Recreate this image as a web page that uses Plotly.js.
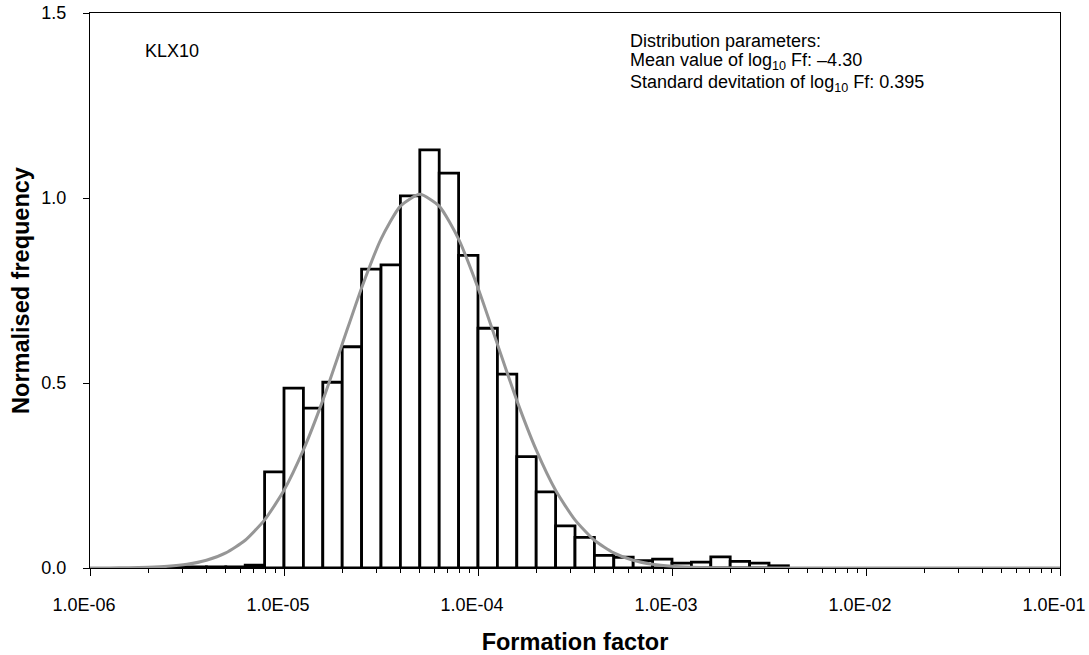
<!DOCTYPE html>
<html>
<head>
<meta charset="utf-8">
<script src="https://cdn.plot.ly/plotly-3.0.1.min.js"></script>
<style>html,body{margin:0;padding:0;background:#fff;}#chart{width:1089px;height:655px;}</style>
</head>
<body>
<div id="chart"></div>
<script>
// Histogram bins: left edge of each bin in log10(Formation factor), bin width 0.1 decade
const binStartLog10 = [-5.6,-5.5,-5.4,-5.3,-5.2,-5.1,-5.0,-4.9,-4.8,-4.7,-4.6,-4.5,-4.4,-4.3,-4.2,-4.1,
                       -4.0,-3.9,-3.8,-3.7,-3.6,-3.5,-3.4,-3.3,-3.2,-3.1,-3.0,-2.9,-2.8,-2.7,-2.6,-2.5];
const normFrequency = [0.002,0.003,0.003,0.003,0.008,0.260,0.486,0.432,0.502,0.598,0.808,0.819,1.006,1.130,1.067,0.845,
                       0.648,0.524,0.301,0.206,0.114,0.083,0.034,0.029,0.020,0.024,0.013,0.016,0.030,0.018,0.013,0.006];
const binWidthLog10 = 0.1;

// Fitted log-normal curve (log10 Ff, normalised frequency)
const curveLog10 = [-6.0,-5.9,-5.8,-5.7,-5.6,-5.5,-5.4,-5.3,-5.2,-5.1,-5.0,-4.9,-4.8,-4.7,-4.6,-4.5,-4.4,-4.3,
                    -4.2,-4.1,-4.0,-3.9,-3.8,-3.7,-3.6,-3.5,-3.4,-3.3,-3.2,-3.1,-3.0,-2.9,-2.8,-2.7,-2.6,
                    -2.4,-2.0,-1.5,-1.0];
const curveFreq  = [0.0001,0.0003,0.0007,0.0019,0.0045,0.010,0.021,0.041,0.075,0.130,0.210,0.319,0.453,0.605,0.757,0.889,0.978,1.010,
                    0.978,0.889,0.757,0.605,0.453,0.319,0.210,0.130,0.075,0.041,0.021,0.010,0.0045,0.0019,0.0007,0.0003,0.0001,
                    0,0,0,0];

// Axis tick labels
const majorTickLog10 = [-6,-5,-4,-3,-2,-1];
const majorTickText = ["1.0E-06","1.0E-05","1.0E-04","1.0E-03","1.0E-02","1.0E-01"];
const minorMultipliers = [2,3,4,5,6,7,8,9];
const yTickVals = [0,0.5,1.0,1.5];
const yTickText = ["0.0","0.5","1.0","1.5"];

const wellName = "KLX10";
const paramHeader = "Distribution parameters:";
const meanLog10 = "–4.30";
const sdLog10 = "0.395";

const minorTicks = [];
majorTickLog10.slice(0,-1).forEach(d => minorMultipliers.forEach(m => minorTicks.push(d + Math.log10(m))));

const FONT = "Liberation Sans, Arial, sans-serif";
const TXT = 18;
const TTL = 23.5;

const traces = [
  {
    type: "bar",
    x: binStartLog10,
    y: normFrequency,
    width: binWidthLog10,
    offset: 0,
    marker: {color: "#ffffff", line: {color: "#000000", width: 2.8}},
    hoverinfo: "skip",
    cliponaxis: false
  },
  {
    type: "scatter",
    mode: "lines",
    x: curveLog10,
    y: curveFreq,
    line: {color: "#969696", width: 3, shape: "spline", smoothing: 0.6},
    hoverinfo: "skip",
    cliponaxis: false
  }
];

function ann(text, px, py) {
  return {
    xref: "paper", yref: "paper",
    x: (px - 90) / 970, y: (568 - py) / 555,
    xanchor: "left", yanchor: "middle", align: "left",
    text: text, showarrow: false,
    font: {family: FONT, size: TXT, color: "#000"}
  };
}

const layout = {
  width: 1089,
  height: 655,
  margin: {l: 90, r: 29, t: 13, b: 87},
  paper_bgcolor: "#ffffff",
  plot_bgcolor: "#ffffff",
  showlegend: false,
  bargap: 0,
  font: {family: FONT, size: TXT, color: "#000"},
  xaxis: {
    range: [-6, -1],
    tickmode: "array",
    tickvals: majorTickLog10,
    ticktext: majorTickText,
    ticks: "outside",
    ticklen: 7,
    tickwidth: 1,
    tickcolor: "#000",
    ticklabelstandoff: 13,
    ticklabelshift: -6,
    minor: {tickmode: "array", tickvals: minorTicks, ticks: "outside", ticklen: 4, tickwidth: 1, tickcolor: "#000", showgrid: false},
    showline: true,
    linecolor: "#000",
    linewidth: 1,
    mirror: true,
    showgrid: false,
    zeroline: false,
    layer: "below traces",
    tickfont: {family: FONT, size: TXT},
    title: {text: "Formation factor", font: {family: FONT, size: TTL, weight: "bold"}, standoff: 20}
  },
  yaxis: {
    range: [0, 1.5],
    tickmode: "array",
    tickvals: yTickVals,
    ticktext: yTickText,
    ticks: "outside",
    ticklen: 6,
    tickwidth: 1,
    tickcolor: "#000",
    ticklabelstandoff: 13,
    showline: true,
    linecolor: "#000",
    linewidth: 1,
    mirror: true,
    showgrid: false,
    zeroline: false,
    layer: "below traces",
    tickfont: {family: FONT, size: TXT},
    title: {text: "Normalised frequency", font: {family: FONT, size: TTL, weight: "bold"}, standoff: 5}
  },
  annotations: [
    ann(wellName, 143, 51),
    ann(paramHeader, 628, 41),
    ann("Mean value of log<sub>10</sub> Ff: " + meanLog10, 628, 61),
    ann("Standard devitation of log<sub>10</sub> Ff: " + sdLog10, 628, 83)
  ]
};

Plotly.newPlot("chart", traces, layout, {displayModeBar: false, staticPlot: true});
</script>
</body>
</html>
